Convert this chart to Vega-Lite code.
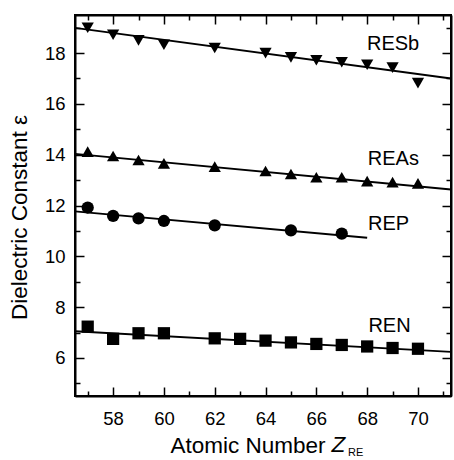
{
  "$schema": "https://vega.github.io/schema/vega-lite/v6.json",
  "width": 376,
  "height": 381,
  "autosize": {"type": "none"},
  "padding": {"left": 75, "top": 15, "right": 3, "bottom": 64},
  "background": "white",
  "config": {
    "font": "Liberation Sans",
    "view": {"stroke": "black", "strokeWidth": 2},
    "axis": {
      "grid": false,
      "domainColor": "black",
      "domainWidth": 2,
      "tickColor": "black",
      "tickWidth": 1.5,
      "labelColor": "black",
      "titleColor": "black",
      "labelFontSize": 18.5,
      "titleFontSize": 22.5,
      "titleFontWeight": "normal",
      "labelFont": "Liberation Sans",
      "titleFont": "Liberation Sans",
      "labelOverlap": false
    }
  },
  "datasets": {
    "points": [
      {"series": "RESb", "Z": 57, "eps": 19.0},
      {"series": "RESb", "Z": 58, "eps": 18.72},
      {"series": "RESb", "Z": 59, "eps": 18.5},
      {"series": "RESb", "Z": 60, "eps": 18.33},
      {"series": "RESb", "Z": 62, "eps": 18.2},
      {"series": "RESb", "Z": 64, "eps": 18.0},
      {"series": "RESb", "Z": 65, "eps": 17.83},
      {"series": "RESb", "Z": 66, "eps": 17.72},
      {"series": "RESb", "Z": 67, "eps": 17.64},
      {"series": "RESb", "Z": 68, "eps": 17.54},
      {"series": "RESb", "Z": 69, "eps": 17.43},
      {"series": "RESb", "Z": 70, "eps": 16.82},
      {"series": "REAs", "Z": 57, "eps": 14.12},
      {"series": "REAs", "Z": 58, "eps": 13.95},
      {"series": "REAs", "Z": 59, "eps": 13.79},
      {"series": "REAs", "Z": 60, "eps": 13.66},
      {"series": "REAs", "Z": 62, "eps": 13.53},
      {"series": "REAs", "Z": 64, "eps": 13.36},
      {"series": "REAs", "Z": 65, "eps": 13.24},
      {"series": "REAs", "Z": 66, "eps": 13.11},
      {"series": "REAs", "Z": 67, "eps": 13.11},
      {"series": "REAs", "Z": 68, "eps": 12.96},
      {"series": "REAs", "Z": 69, "eps": 12.92},
      {"series": "REAs", "Z": 70, "eps": 12.87},
      {"series": "REP", "Z": 57, "eps": 11.92},
      {"series": "REP", "Z": 58, "eps": 11.59},
      {"series": "REP", "Z": 59, "eps": 11.49},
      {"series": "REP", "Z": 60, "eps": 11.39},
      {"series": "REP", "Z": 62, "eps": 11.22},
      {"series": "REP", "Z": 65, "eps": 11.02},
      {"series": "REP", "Z": 67, "eps": 10.89},
      {"series": "REN", "Z": 57, "eps": 7.23},
      {"series": "REN", "Z": 58, "eps": 6.75},
      {"series": "REN", "Z": 59, "eps": 6.97},
      {"series": "REN", "Z": 60, "eps": 6.97},
      {"series": "REN", "Z": 62, "eps": 6.77},
      {"series": "REN", "Z": 63, "eps": 6.75},
      {"series": "REN", "Z": 64, "eps": 6.68},
      {"series": "REN", "Z": 65, "eps": 6.61},
      {"series": "REN", "Z": 66, "eps": 6.55},
      {"series": "REN", "Z": 67, "eps": 6.51},
      {"series": "REN", "Z": 68, "eps": 6.45},
      {"series": "REN", "Z": 69, "eps": 6.39},
      {"series": "REN", "Z": 70, "eps": 6.36}
    ],
    "fits": [
      {"series": "RESb", "Z": 56.5, "eps": 18.99},
      {"series": "RESb", "Z": 71.3, "eps": 17.0},
      {"series": "REAs", "Z": 56.5, "eps": 14.03},
      {"series": "REAs", "Z": 71.3, "eps": 12.63},
      {"series": "REP", "Z": 56.5, "eps": 11.77},
      {"series": "REP", "Z": 68.0, "eps": 10.73},
      {"series": "REN", "Z": 56.5, "eps": 7.05},
      {"series": "REN", "Z": 71.3, "eps": 6.24}
    ],
    "labels": [
      {"text": "RESb", "Z": 69.02, "eps": 18.12},
      {"text": "REAs", "Z": 69.03, "eps": 13.59},
      {"text": "REP", "Z": 68.84, "eps": 11.04},
      {"text": "REN", "Z": 68.88, "eps": 7.03}
    ]
  },
  "layer": [
    {
      "data": {"name": "points"},
      "mark": {"type": "point", "filled": true, "opacity": 1, "color": "black"},
      "encoding": {
        "x": {
          "field": "Z", "type": "quantitative",
          "scale": {"domain": [56.5, 71.3], "nice": false, "zero": false},
          "axis": {
            "orient": "bottom",
            "title": "Atomic Number",
            "values": [57, 58, 59, 60, 61, 62, 63, 64, 65, 66, 67, 68, 69, 70, 71],
            "labelExpr": "datum.value % 2 === 0 ? datum.label : ''",
            "tickSize": {"condition": {"test": "datum.value % 2 === 0", "value": -9}, "value": -5},
            "labelPadding": 22,
            "titleAlign": "left",
            "titleBaseline": "alphabetic",
            "titleX": 95,
            "titleY": 56
          }
        },
        "y": {
          "field": "eps", "type": "quantitative",
          "scale": {"domain": [4.5, 19.5], "nice": false, "zero": false},
          "axis": {
            "orient": "left",
            "title": "Dielectric Constant ε",
            "values": [5, 6, 7, 8, 9, 10, 11, 12, 13, 14, 15, 16, 17, 18, 19],
            "labelExpr": "datum.value % 2 === 0 ? datum.label : ''",
            "tickSize": {"condition": {"test": "datum.value % 2 === 0", "value": -9}, "value": -5},
            "labelPadding": 19,
            "titleAlign": "center",
            "titleBaseline": "middle",
            "titleX": -56,
            "titleY": 202
          }
        },
        "shape": {
          "field": "series", "type": "nominal",
          "scale": {"domain": ["RESb", "REAs", "REP", "REN"], "range": ["triangle-down", "triangle-up", "circle", "square"]},
          "legend": null
        },
        "size": {
          "field": "series", "type": "nominal",
          "scale": {"domain": ["RESb", "REAs", "REP", "REN"], "range": [150, 150, 100, 81]},
          "legend": null
        }
      }
    },
    {
      "data": {"name": "fits"},
      "mark": {"type": "line", "color": "black", "strokeWidth": 1.8},
      "encoding": {
        "x": {
          "field": "Z", "type": "quantitative",
          "axis": {
            "orient": "top",
            "title": null,
            "labels": false,
            "values": [57, 58, 59, 60, 61, 62, 63, 64, 65, 66, 67, 68, 69, 70, 71],
            "tickSize": {"condition": {"test": "datum.value % 2 === 0", "value": -9}, "value": -5}
          }
        },
        "y": {
          "field": "eps", "type": "quantitative",
          "axis": {
            "orient": "right",
            "title": null,
            "labels": false,
            "values": [5, 6, 7, 8, 9, 10, 11, 12, 13, 14, 15, 16, 17, 18, 19],
            "tickSize": {"condition": {"test": "datum.value % 2 === 0", "value": -9}, "value": -5}
          }
        },
        "detail": {"field": "series", "type": "nominal"}
      }
    },
    {
      "data": {"name": "labels"},
      "mark": {"type": "text", "fontSize": 20, "align": "center", "baseline": "alphabetic", "color": "black", "font": "Liberation Sans"},
      "encoding": {
        "x": {"field": "Z", "type": "quantitative", "axis": null},
        "y": {"field": "eps", "type": "quantitative", "axis": null},
        "text": {"field": "text"}
      }
    },
    {
      "data": {"values": [{"text": "Z", "Z": 66.6, "eps": 2.307}]},
      "mark": {"type": "text", "fontSize": 22.5, "fontStyle": "italic", "align": "left", "baseline": "alphabetic", "color": "black", "font": "Liberation Sans"},
      "encoding": {
        "x": {"field": "Z", "type": "quantitative", "axis": null},
        "y": {"field": "eps", "type": "quantitative", "axis": null},
        "text": {"field": "text"}
      }
    },
    {
      "data": {"values": [{"text": "RE", "Z": 67.25, "eps": 2.12}]},
      "mark": {"type": "text", "fontSize": 11, "align": "left", "baseline": "alphabetic", "color": "black", "font": "Liberation Sans"},
      "encoding": {
        "x": {"field": "Z", "type": "quantitative", "axis": null},
        "y": {"field": "eps", "type": "quantitative", "axis": null},
        "text": {"field": "text"}
      }
    }
  ],
  "resolve": {"axis": {"x": "independent", "y": "independent"}}
}
